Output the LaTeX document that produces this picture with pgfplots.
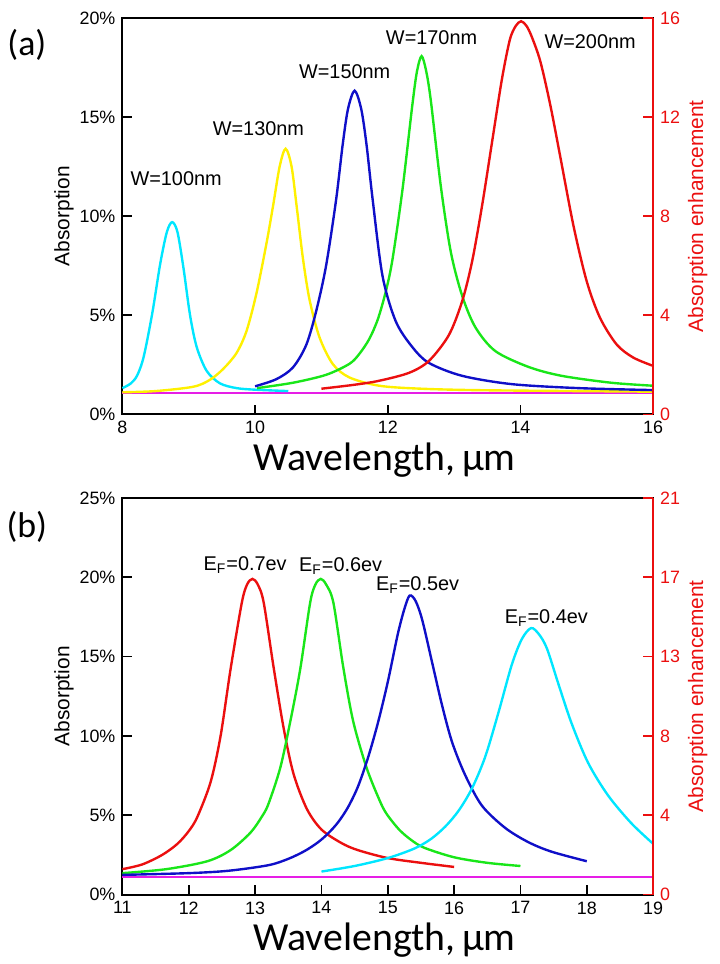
\documentclass[border=0pt]{standalone}
\usepackage{pgfplots}
\pgfplotsset{compat=1.18}
\usepackage{fontspec}
\setmainfont{Liberation Sans}
\newfontfamily\calfont{Carlito}

\definecolor{cy}{RGB}{0,230,255}
\definecolor{ye}{RGB}{255,240,0}
\definecolor{bl}{RGB}{15,15,200}
\definecolor{gr}{RGB}{25,230,25}
\definecolor{rd}{RGB}{235,15,15}
\definecolor{mg}{RGB}{230,30,230}

\tikzset{lab/.style={font=\fontsize{10}{12}\selectfont}}
\pgfplotsset{
  leftax/.style={
    scale only axis, width=267pt, height=199.5pt, clip=false,
    tick align=inside, xtick pos=bottom, ytick pos=left,
    axis line style={line width=1pt}, major tick length=5pt,
    tick style={line width=0.9pt, black},
    ticklabel style={font=\fontsize{9}{10}\selectfont},
    /pgf/number format/assume math mode=true,
    every axis x label/.style={at={(axis description cs:0.494,-0.115)}, anchor=center,
      font=\calfont\fontsize{20}{22}\selectfont},
    every axis y label/.style={at={(axis description cs:-0.11,0.5)}, rotate=90, anchor=center,
      font=\fontsize{10.5}{12}\selectfont},
    every axis plot/.append style={line width=1.2pt, smooth, no markers},
  },
  rightax/.style={
    scale only axis, width=267pt, height=199.5pt,
    axis x line=none, axis y line*=right,
    y axis line style={rd, line width=1pt},
    tick align=inside, major tick length=5pt,
    ytick style={rd, line width=0.9pt},
    yticklabel style={rd, font=\fontsize{9}{10}\selectfont},
    /pgf/number format/assume math mode=true,
    every axis y label/.style={at={(axis description cs:1.084,0.5)}, rotate=90, anchor=center,
      font=\fontsize{10.5}{12}\selectfont, text=rd},
  },
}

\begin{document}
\begin{tikzpicture}
% ---------- (a) ----------
\begin{axis}[leftax,
    xmin=8, xmax=16, ymin=0, ymax=20,
    xtick={8,10,12,14,16},
    ytick={0,5,10,15,20}, yticklabels={0\%,5\%,10\%,15\%,20\%},
    xlabel={Wavelength,\,µm}, ylabel={Absorption}]
\addplot[mg] coordinates {(8,1.08) (16,1.08)};
\addplot[cy] coordinates {
  (8.0,1.33) (8.12,1.55) (8.22,1.95) (8.32,2.9) (8.45,5.1) (8.57,7.6) (8.67,9.2)
  (8.75,9.7) (8.83,9.2) (8.92,7.4) (9.02,5.0) (9.12,3.4) (9.27,2.2) (9.47,1.57)
  (9.72,1.33) (10.0,1.25) (10.5,1.18)};
\addplot[ye] coordinates {
  (8.0,1.12) (8.5,1.18) (9.07,1.4) (9.32,1.75) (9.52,2.3) (9.72,3.1) (9.87,4.2)
  (10.02,6.1) (10.17,8.6) (10.27,10.5) (10.37,12.5) (10.46,13.4) (10.55,12.5)
  (10.63,10.4) (10.72,7.9) (10.82,5.8) (10.97,3.9) (11.17,2.55) (11.42,1.87)
  (11.87,1.45) (12.5,1.3) (13.5,1.22) (16,1.15)};
\addplot[gr] coordinates {
  (10.03,1.33) (10.57,1.6) (11.07,2.0) (11.42,2.55) (11.57,3.05) (11.72,3.8)
  (11.85,4.8) (11.97,6.2) (12.07,7.8) (12.22,11.3) (12.37,15.6) (12.44,17.3)
  (12.51,18.07) (12.58,17.3) (12.65,15.8) (12.8,11.5) (12.95,8.2) (13.12,6.0)
  (13.32,4.4) (13.62,3.2) (14.12,2.4) (14.62,1.95) (15.37,1.6) (16.0,1.45)};
\addplot[bl] coordinates {
  (10.0,1.42) (10.32,1.78) (10.57,2.37) (10.77,3.5) (10.92,5.2) (11.07,7.5)
  (11.22,10.8) (11.32,13.6) (11.4,15.4) (11.5,16.33) (11.6,15.4) (11.68,13.6)
  (11.77,10.9) (11.92,7.0) (12.12,4.7) (12.37,3.4) (12.62,2.6) (13.12,1.95)
  (13.87,1.53) (14.87,1.33) (16.0,1.23)};
\addplot[rd] coordinates {
  (11.0,1.3) (11.5,1.5) (11.87,1.7) (12.32,2.1) (12.62,2.7) (12.92,4.0)
  (13.12,5.7) (13.27,7.7) (13.42,10.5) (13.57,13.7) (13.72,16.9) (13.84,18.9)
  (13.93,19.6) (14.01,19.83) (14.09,19.6) (14.17,19.05) (14.3,17.8) (14.45,15.6)
  (14.6,13.0) (14.8,9.5) (15.0,6.7) (15.2,4.87) (15.45,3.53) (15.7,2.87) (16.0,2.45)};
\node[lab] at (axis cs:8.81,11.9) {W=100nm};
\node[lab] at (axis cs:10.05,14.4) {W=130nm};
\node[lab] at (axis cs:11.35,17.3) {W=150nm};
\node[lab] at (axis cs:12.66,19.0) {W=170nm};
\node[lab] at (axis cs:15.05,18.8) {W=200nm};
\node[font=\calfont\fontsize{18}{20}\selectfont] at (axis description cs:-0.18,0.932) {(a)};
\end{axis}
\begin{axis}[rightax,
    xmin=8, xmax=16, ymin=0, ymax=16,
    ytick={0,4,8,12,16},
    ylabel={Absorption enhancement}]
\end{axis}

% ---------- (b) ----------
\begin{axis}[leftax, at={(0,-241.5pt)},
    xmin=11, xmax=19, ymin=0, ymax=25,
    xtick={11,12,...,19},
    ytick={0,5,10,15,20,25}, yticklabels={0\%,5\%,10\%,15\%,20\%,25\%},
    xlabel={Wavelength,\,µm}, ylabel={Absorption}]
\addplot[mg] coordinates {(11,1.1) (19,1.1)};
\addplot[rd] coordinates {
  (11.0,1.6) (11.3,1.9) (11.6,2.5) (11.83,3.2) (12.0,4.0) (12.13,4.9) (12.33,7.1)
  (12.48,10.0) (12.63,14.2) (12.8,18.4) (12.88,19.55) (12.96,19.9) (13.04,19.55)
  (13.13,18.4) (13.28,14.3) (13.43,10.5) (13.58,7.6) (13.78,5.4) (14.0,4.1)
  (14.3,3.25) (14.55,2.8) (15.0,2.3) (15.5,2.0) (16.0,1.74)};
\addplot[gr] coordinates {
  (11.0,1.35) (11.66,1.6) (12.28,2.1) (12.63,2.8) (12.93,3.9) (13.1,4.9)
  (13.2,5.7) (13.38,8.0) (13.53,10.9) (13.68,14.2) (13.83,18.4) (13.91,19.55)
  (13.99,19.9) (14.07,19.55) (14.18,18.4) (14.33,14.3) (14.48,10.9) (14.68,8.0)
  (14.87,6.0) (14.98,5.1) (15.17,4.1) (15.35,3.45) (15.55,2.95) (16.0,2.35)
  (16.5,2.0) (17.0,1.8)};
\addplot[bl] coordinates {
  (11.0,1.24) (12.0,1.35) (12.6,1.5) (13.2,1.85) (13.5,2.25) (13.75,2.75)
  (13.95,3.3) (14.1,3.85) (14.25,4.55) (14.4,5.5) (14.55,6.8) (14.7,8.6)
  (14.85,10.8) (15.0,13.4) (15.15,16.4) (15.25,18.0) (15.33,18.85) (15.42,18.5)
  (15.52,17.3) (15.67,14.6) (15.82,11.9) (15.97,9.6) (16.17,7.5) (16.42,5.6)
  (16.77,4.2) (17.12,3.3) (17.47,2.7) (18.0,2.1)};
\addplot[cy] coordinates {
  (14.0,1.45) (14.5,1.8) (15.0,2.3) (15.4,2.9) (15.65,3.5) (15.87,4.3) (16.07,5.3)
  (16.27,6.7) (16.47,8.7) (16.67,11.5) (16.87,14.5) (17.02,16.1) (17.16,16.8)
  (17.28,16.4) (17.4,15.5) (17.57,13.3) (17.77,10.8) (18.02,8.3) (18.32,6.25)
  (18.67,4.5) (19.0,3.2)};
\node[lab] at (axis cs:12.85,20.8) {E$_{\mathrm{F}}$=0.7ev};
\node[lab] at (axis cs:14.29,20.7) {E$_{\mathrm{F}}$=0.6ev};
\node[lab] at (axis cs:15.45,19.5) {E$_{\mathrm{F}}$=0.5ev};
\node[lab] at (axis cs:17.39,17.4) {E$_{\mathrm{F}}$=0.4ev};
\node[font=\calfont\fontsize{18}{20}\selectfont] at (axis description cs:-0.18,0.927) {(b)};
\end{axis}
\begin{axis}[rightax, at={(0,-241.5pt)},
    xmin=11, xmax=19, ymin=0, ymax=21,
    ytick={0,4.2,8.4,12.6,16.8,21}, yticklabels={0,4,8,13,17,21},
    ylabel={Absorption enhancement}]
\end{axis}

\path (-60.5pt,208.5pt) rectangle (300.5pt,-273.5pt);
\end{tikzpicture}
\end{document}
